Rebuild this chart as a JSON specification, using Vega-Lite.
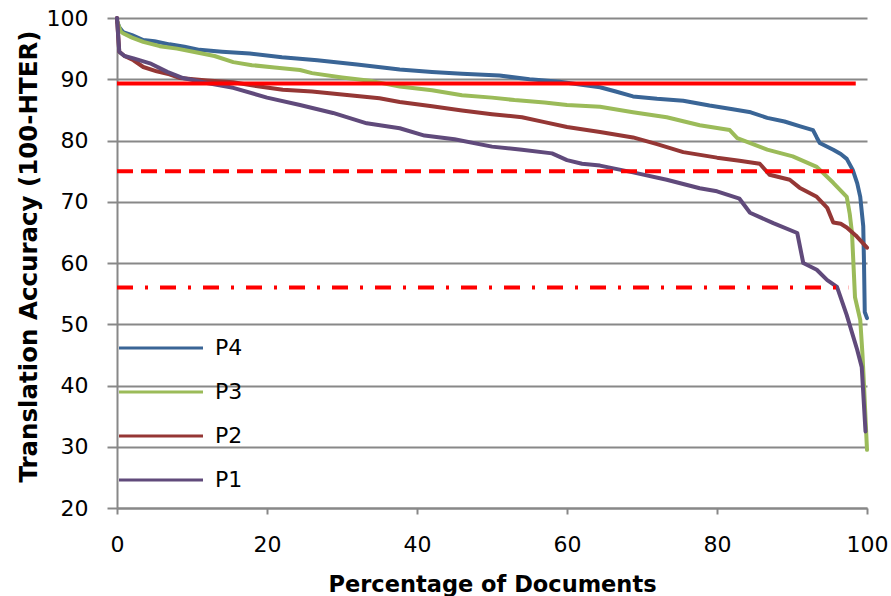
{
  "$schema": "https://vega.github.io/schema/vega-lite/v6.json",
  "width": 750,
  "height": 490,
  "autosize": {"type": "none"},
  "padding": {"left": 117, "top": 18, "right": 24, "bottom": 88},
  "background": "white",
  "config": {
    "view": {"stroke": null},
    "font": "DejaVu Sans",
    "axis": {
      "labelFont": "DejaVu Sans",
      "labelFontSize": 22,
      "labelColor": "#000000",
      "labelFlush": false,
      "titleFont": "DejaVu Sans",
      "titleFontWeight": "bold",
      "titleColor": "#000000",
      "domainColor": "#888888",
      "domainWidth": 2,
      "tickColor": "#888888",
      "tickWidth": 2,
      "gridColor": "#888888",
      "gridWidth": 2
    }
  },
  "datasets": {
    "curves": [
      {"s": "P4", "x": 0, "y": 99.5}, {"s": "P4", "x": 0.3, "y": 98.5}, {"s": "P4", "x": 0.8, "y": 97.7}, {"s": "P4", "x": 2, "y": 97.2}, {"s": "P4", "x": 3.5, "y": 96.4}, {"s": "P4", "x": 5, "y": 96.2}, {"s": "P4", "x": 7, "y": 95.7}, {"s": "P4", "x": 9, "y": 95.3}, {"s": "P4", "x": 11, "y": 94.8}, {"s": "P4", "x": 14, "y": 94.5}, {"s": "P4", "x": 17.7, "y": 94.2}, {"s": "P4", "x": 22, "y": 93.6}, {"s": "P4", "x": 26.7, "y": 93.1}, {"s": "P4", "x": 32, "y": 92.4}, {"s": "P4", "x": 37.7, "y": 91.6}, {"s": "P4", "x": 42, "y": 91.2}, {"s": "P4", "x": 46, "y": 90.9}, {"s": "P4", "x": 51, "y": 90.6}, {"s": "P4", "x": 55, "y": 90.0}, {"s": "P4", "x": 59, "y": 89.6}, {"s": "P4", "x": 64.4, "y": 88.7}, {"s": "P4", "x": 66.5, "y": 88.0}, {"s": "P4", "x": 68.8, "y": 87.2}, {"s": "P4", "x": 72, "y": 86.8}, {"s": "P4", "x": 75.5, "y": 86.5}, {"s": "P4", "x": 79, "y": 85.7}, {"s": "P4", "x": 82.1, "y": 85.1}, {"s": "P4", "x": 84.5, "y": 84.6}, {"s": "P4", "x": 86.7, "y": 83.7}, {"s": "P4", "x": 89, "y": 83.1}, {"s": "P4", "x": 91.1, "y": 82.3}, {"s": "P4", "x": 92.8, "y": 81.7}, {"s": "P4", "x": 93.3, "y": 80.5}, {"s": "P4", "x": 93.7, "y": 79.6}, {"s": "P4", "x": 95.5, "y": 78.5}, {"s": "P4", "x": 96.5, "y": 77.8}, {"s": "P4", "x": 97.3, "y": 77.0}, {"s": "P4", "x": 98.1, "y": 75.2}, {"s": "P4", "x": 98.7, "y": 73.0}, {"s": "P4", "x": 99.1, "y": 70.8}, {"s": "P4", "x": 99.5, "y": 66.0}, {"s": "P4", "x": 99.6, "y": 60.0}, {"s": "P4", "x": 99.7, "y": 52.0}, {"s": "P4", "x": 100, "y": 51.0},

      {"s": "P3", "x": 0, "y": 99.5}, {"s": "P3", "x": 0.5, "y": 97.8}, {"s": "P3", "x": 0.8, "y": 97.5}, {"s": "P3", "x": 2, "y": 96.8}, {"s": "P3", "x": 3.5, "y": 96.1}, {"s": "P3", "x": 5.7, "y": 95.4}, {"s": "P3", "x": 8, "y": 95.0}, {"s": "P3", "x": 11, "y": 94.3}, {"s": "P3", "x": 13, "y": 93.8}, {"s": "P3", "x": 15.5, "y": 92.8}, {"s": "P3", "x": 18, "y": 92.3}, {"s": "P3", "x": 21, "y": 91.9}, {"s": "P3", "x": 24.4, "y": 91.5}, {"s": "P3", "x": 26, "y": 91.0}, {"s": "P3", "x": 30, "y": 90.3}, {"s": "P3", "x": 34, "y": 89.7}, {"s": "P3", "x": 37.7, "y": 88.8}, {"s": "P3", "x": 42, "y": 88.2}, {"s": "P3", "x": 46, "y": 87.4}, {"s": "P3", "x": 50, "y": 87.0}, {"s": "P3", "x": 53, "y": 86.6}, {"s": "P3", "x": 57, "y": 86.2}, {"s": "P3", "x": 60, "y": 85.8}, {"s": "P3", "x": 64.4, "y": 85.5}, {"s": "P3", "x": 68.8, "y": 84.6}, {"s": "P3", "x": 73.3, "y": 83.8}, {"s": "P3", "x": 77.7, "y": 82.5}, {"s": "P3", "x": 81.7, "y": 81.7}, {"s": "P3", "x": 82.7, "y": 80.4}, {"s": "P3", "x": 86.7, "y": 78.5}, {"s": "P3", "x": 90.1, "y": 77.4}, {"s": "P3", "x": 93.3, "y": 75.7}, {"s": "P3", "x": 95.5, "y": 73.1}, {"s": "P3", "x": 97.3, "y": 70.8}, {"s": "P3", "x": 97.7, "y": 68.0}, {"s": "P3", "x": 98.0, "y": 64.9}, {"s": "P3", "x": 98.4, "y": 54.4}, {"s": "P3", "x": 99.1, "y": 50.7}, {"s": "P3", "x": 99.4, "y": 45.0}, {"s": "P3", "x": 99.6, "y": 40.0}, {"s": "P3", "x": 100, "y": 29.5},

      {"s": "P2", "x": 0, "y": 100}, {"s": "P2", "x": 0.3, "y": 94.5}, {"s": "P2", "x": 1, "y": 93.8}, {"s": "P2", "x": 2.2, "y": 93.1}, {"s": "P2", "x": 3.5, "y": 92.0}, {"s": "P2", "x": 5.3, "y": 91.3}, {"s": "P2", "x": 7, "y": 90.8}, {"s": "P2", "x": 8.4, "y": 90.2}, {"s": "P2", "x": 12, "y": 89.8}, {"s": "P2", "x": 15.5, "y": 89.5}, {"s": "P2", "x": 19, "y": 88.8}, {"s": "P2", "x": 22.1, "y": 88.3}, {"s": "P2", "x": 26, "y": 88.0}, {"s": "P2", "x": 31, "y": 87.4}, {"s": "P2", "x": 35, "y": 86.9}, {"s": "P2", "x": 37.7, "y": 86.3}, {"s": "P2", "x": 42, "y": 85.6}, {"s": "P2", "x": 46, "y": 84.9}, {"s": "P2", "x": 50, "y": 84.3}, {"s": "P2", "x": 54, "y": 83.8}, {"s": "P2", "x": 57, "y": 83.0}, {"s": "P2", "x": 60, "y": 82.2}, {"s": "P2", "x": 64.4, "y": 81.4}, {"s": "P2", "x": 68.8, "y": 80.5}, {"s": "P2", "x": 72, "y": 79.4}, {"s": "P2", "x": 75.5, "y": 78.1}, {"s": "P2", "x": 80, "y": 77.2}, {"s": "P2", "x": 83, "y": 76.7}, {"s": "P2", "x": 85.7, "y": 76.2}, {"s": "P2", "x": 87, "y": 74.4}, {"s": "P2", "x": 89.7, "y": 73.6}, {"s": "P2", "x": 91, "y": 72.3}, {"s": "P2", "x": 93.3, "y": 70.8}, {"s": "P2", "x": 94.7, "y": 69.0}, {"s": "P2", "x": 95.5, "y": 66.6}, {"s": "P2", "x": 96.5, "y": 66.4}, {"s": "P2", "x": 97.3, "y": 65.8}, {"s": "P2", "x": 98.5, "y": 64.5}, {"s": "P2", "x": 100, "y": 62.5},

      {"s": "P1", "x": 0, "y": 100}, {"s": "P1", "x": 0.3, "y": 94.5}, {"s": "P1", "x": 1, "y": 93.8}, {"s": "P1", "x": 2.2, "y": 93.4}, {"s": "P1", "x": 4.4, "y": 92.6}, {"s": "P1", "x": 6.7, "y": 91.2}, {"s": "P1", "x": 8.8, "y": 90.2}, {"s": "P1", "x": 12, "y": 89.4}, {"s": "P1", "x": 15.5, "y": 88.6}, {"s": "P1", "x": 20, "y": 87.0}, {"s": "P1", "x": 24.4, "y": 85.8}, {"s": "P1", "x": 28.8, "y": 84.5}, {"s": "P1", "x": 33.3, "y": 82.8}, {"s": "P1", "x": 37.7, "y": 82.0}, {"s": "P1", "x": 41, "y": 80.8}, {"s": "P1", "x": 45, "y": 80.2}, {"s": "P1", "x": 50, "y": 79.0}, {"s": "P1", "x": 54, "y": 78.5}, {"s": "P1", "x": 58, "y": 77.9}, {"s": "P1", "x": 60, "y": 76.8}, {"s": "P1", "x": 62, "y": 76.2}, {"s": "P1", "x": 64.4, "y": 75.9}, {"s": "P1", "x": 68.8, "y": 74.8}, {"s": "P1", "x": 73.3, "y": 73.6}, {"s": "P1", "x": 77.7, "y": 72.2}, {"s": "P1", "x": 80, "y": 71.7}, {"s": "P1", "x": 83, "y": 70.5}, {"s": "P1", "x": 84.4, "y": 68.2}, {"s": "P1", "x": 87.5, "y": 66.5}, {"s": "P1", "x": 90.7, "y": 64.9}, {"s": "P1", "x": 91.5, "y": 60.0}, {"s": "P1", "x": 93.3, "y": 58.9}, {"s": "P1", "x": 94.7, "y": 57.2}, {"s": "P1", "x": 96, "y": 56.1}, {"s": "P1", "x": 97.3, "y": 51.5}, {"s": "P1", "x": 98.7, "y": 45.8}, {"s": "P1", "x": 99.3, "y": 43.0}, {"s": "P1", "x": 99.8, "y": 32.5}
    ],
    "thresholds": [
      {"kind": "solid", "y": 89.3, "x": 0, "x2": 98.5},
      {"kind": "dashed", "y": 75.0, "x": 0, "x2": 98.7},
      {"kind": "dashdot", "y": 56.0, "x": 0, "x2": 97.5}
    ]
  },
  "layer": [
    {
      "data": {"name": "curves"},
      "mark": {"type": "line", "strokeWidth": 4, "strokeJoin": "round", "strokeCap": "round"},
      "encoding": {
        "x": {
          "field": "x", "type": "quantitative",
          "scale": {"domain": [0, 100], "nice": false, "zero": false},
          "axis": {
            "values": [0, 20, 40, 60, 80, 100],
            "grid": false,
            "tickSize": 6,
            "labelPadding": 30,
            "labelBaseline": "middle",
            "title": "Percentage of Documents",
            "titleFontSize": 22.5,
            "titleBaseline": "alphabetic",
            "titleY": 83
          }
        },
        "y": {
          "field": "y", "type": "quantitative",
          "scale": {"domain": [20, 100], "nice": false, "zero": false},
          "axis": {
            "values": [20, 30, 40, 50, 60, 70, 80, 90, 100],
            "grid": true,
            "tickSize": 10,
            "labelPadding": 19,
            "title": "Translation Accuracy (100-HTER)",
            "titleFontSize": 24.5,
            "titleBaseline": "alphabetic",
            "titleX": -81,
            "titleY": 238
          }
        },
        "color": {
          "field": "s", "type": "nominal",
          "scale": {"domain": ["P4", "P3", "P2", "P1"], "range": ["#3A6596", "#9BBB59", "#953735", "#604A7B"]},
          "legend": {
            "title": null,
            "orient": "none",
            "legendX": 32,
            "legendY": 318,
            "direction": "vertical",
            "padding": 0,
            "symbolType": "M-4,0H4",
            "symbolSize": 441,
            "symbolStrokeWidth": 3,
            "labelFontSize": 22,
            "labelColor": "#000000",
            "labelOffset": 42,
            "rowPadding": 21
          }
        }
      }
    },
    {
      "data": {"name": "thresholds"},
      "mark": {"type": "rule", "color": "#FF0000", "strokeWidth": 4},
      "encoding": {
        "x": {"field": "x", "type": "quantitative"},
        "x2": {"field": "x2"},
        "y": {"field": "y", "type": "quantitative"},
        "strokeDash": {
          "field": "kind", "type": "nominal",
          "scale": {"domain": ["solid", "dashed", "dashdot"], "range": [[1, 0], [16, 8], [16, 12, 3, 12]]},
          "legend": null
        }
      }
    }
  ]
}
